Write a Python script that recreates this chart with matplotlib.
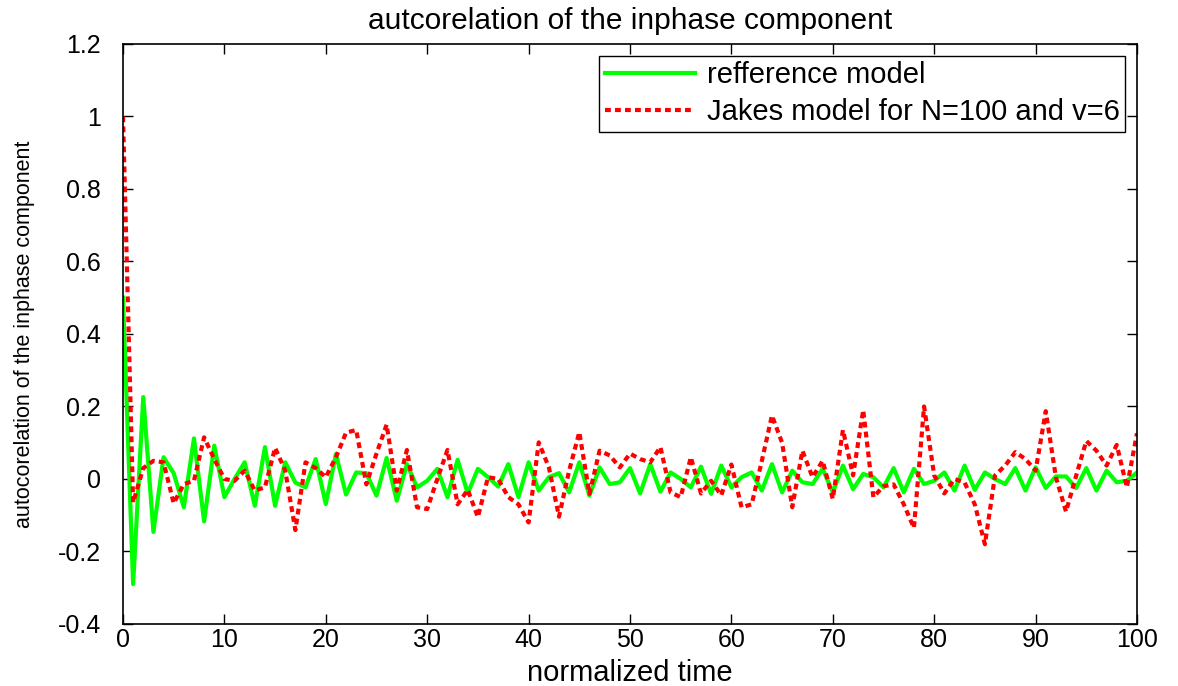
import matplotlib
matplotlib.use("Agg")
import matplotlib.pyplot as plt
import numpy as np

# ---- data ----
time = np.arange(0, 101)

reference_model = [
    0.50, -0.29, 0.226, -0.146, 0.06, 0.016, -0.078, 0.112, -0.117, 0.092,
    -0.05, 0.0, 0.046, -0.074, 0.088, -0.074, 0.046, -0.01, -0.023, 0.055,
    -0.069, 0.069, -0.043, 0.018, 0.016, -0.046, 0.058, -0.06, 0.041, -0.023,
    -0.005, 0.028, -0.05, 0.053, -0.04, 0.028, 0.005, -0.021, 0.041, -0.05,
    0.046, -0.032, 0.005, 0.016, -0.037, 0.046, -0.046, 0.032, -0.014, -0.009,
    0.03, -0.04, 0.041, -0.035, 0.018, 0.0, -0.023, 0.034, -0.041, 0.037,
    -0.023, 0.005, 0.018, -0.032, 0.041, -0.037, 0.023, -0.009, -0.014, 0.028,
    -0.037, 0.037, -0.028, 0.014, 0.005, -0.023, 0.03, -0.037, 0.028, -0.014,
    -0.005, 0.018, -0.032, 0.037, -0.03, 0.018, 0.0, -0.014, 0.03, -0.032,
    0.032, -0.025, 0.007, 0.007, -0.025, 0.03, -0.032, 0.023, -0.009, -0.005,
    0.018,
]

jakes_model = [
    1.0, -0.065, 0.03, 0.05, 0.046, -0.067, -0.014, -0.005, 0.115, 0.055,
    0.0, -0.005, 0.023, -0.032, -0.023, 0.086, 0.023, -0.141, 0.046, 0.03,
    0.005, 0.06, 0.128, 0.135, -0.015, 0.07, 0.15, -0.032, 0.08, -0.078,
    -0.083, 0.0, 0.08, -0.07, -0.03, -0.105, 0.005, 0.0, -0.05, -0.07,
    -0.12, 0.101, 0.032, -0.104, 0.023, 0.129, -0.041, 0.078, 0.065, 0.032,
    0.07, 0.055, 0.046, 0.088, -0.037, -0.05, 0.06, -0.04, -0.005, -0.045,
    0.04, -0.078, -0.07, 0.05, 0.175, 0.1, -0.078, 0.078, 0.005, 0.05,
    -0.055, 0.135, 0.01, 0.19, -0.05, -0.02, -0.015, -0.07, -0.135, 0.2,
    0.01, -0.04, 0.0, -0.01, -0.07, -0.18, 0.01, 0.037, 0.074, 0.055,
    0.023, 0.187, 0.005, -0.09, 0.009, 0.105, 0.078, 0.037, 0.094, -0.023,
    0.126,
]

x_ticks = list(range(0, 101, 10))
y_ticks = [-0.4, -0.2, 0, 0.2, 0.4, 0.6, 0.8, 1, 1.2]
y_tick_labels = ["-0.4", "-0.2", "0", "0.2", "0.4", "0.6", "0.8", "1", "1.2"]

plt.rcParams["font.family"] = ["Liberation Sans", "DejaVu Sans"]

fig = plt.figure(figsize=(11.78, 6.86), dpi=100)
ax = fig.add_axes([0.1044, 0.0904, 0.8608, 0.8455])

ax.plot(time, reference_model, color="#00ff00", lw=3.0, label="refference model")
ax.plot(time, jakes_model, color="#ff0000", lw=3.0, ls=(0, (1.4, 1.0)),
        label="Jakes model for N=100 and v=6")

ax.set_xlim(0, 100)
ax.set_ylim(-0.4, 1.2)
ax.set_xticks(x_ticks)
ax.set_yticks(y_ticks)
ax.set_yticklabels(y_tick_labels)
ax.tick_params(direction="in", top=True, right=True, length=7, width=1,
               labelsize=18)
ax.tick_params(axis="y", pad=16)
ax.tick_params(axis="x", pad=3)
for sp in ax.spines.values():
    sp.set_linewidth(1.2)

ax.set_title("autcorelation of the inphase component", fontsize=21.5, pad=11)
ax.set_xlabel("normalized time", fontsize=21, labelpad=5)
ax.set_ylabel("autocorelation of the inphase component", fontsize=15.5)
ax.yaxis.set_label_coords(-0.087, 0.5)

leg = ax.legend(loc="upper right", fontsize=21, handlelength=3.1,
                handletextpad=0.4, fancybox=False, framealpha=1,
                edgecolor="black", borderaxespad=0.4, borderpad=0.2,
                labelspacing=0.3)
leg.get_frame().set_linewidth(1.0)

fig.savefig("out.png", dpi=100)
